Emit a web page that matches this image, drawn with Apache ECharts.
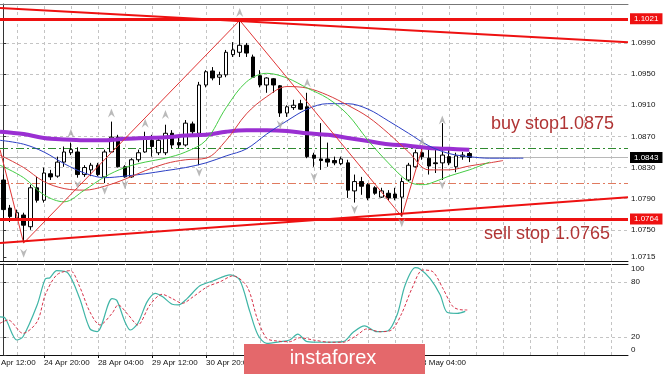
<!DOCTYPE html>
<html><head><meta charset="utf-8">
<script src="https://cdn.jsdelivr.net/npm/echarts@6/dist/echarts.min.js"></script>
<style>html,body{margin:0;padding:0;background:#fff}#c{width:665px;height:375px}</style>
</head><body><div id="c"></div>
<script>
const NSLOTS = 93;
// H4 candles (index 0 = first visible bar)
const opens = [1.0814,1.0778,1.0765,1.0769,1.0754,1.0804,1.0788,1.0822,1.0819,1.0837,
1.0849,1.0850,1.0821,1.0827,1.0833,1.0818,1.0850,1.0869,1.0831,1.0818,
1.0840,1.0850,1.0865,1.0849,1.0849,1.0874,1.0862,1.0859,1.0886,1.0874,
1.0936,1.0954,1.0946,1.0949,1.0975,1.0978,1.0987,1.0972,1.0948,1.0936,
1.0944,1.0935,1.0900,1.0907,1.0912,1.0908,1.0846,1.0841,1.0841,1.0839,
1.0835,1.0836,1.0800,1.0812,1.0808,1.0804,1.0792,1.0797,1.0796,1.0792,
1.0814,1.0831,1.0849,1.0842,1.0836,1.0836,1.0844,1.0831,1.0844,1.0848];
const closes = [1.0776,1.0767,1.0772,1.0756,1.0804,1.0788,1.0823,1.0818,1.0837,1.0850,
1.0853,1.0821,1.0830,1.0833,1.0821,1.0850,1.0869,1.0831,1.0818,1.0840,
1.0849,1.0868,1.0857,1.0865,1.0874,1.0859,1.0859,1.0887,1.0876,1.0936,
1.0953,1.0945,1.0949,1.0978,1.0981,1.0987,1.0977,1.0946,1.0936,1.0945,
1.0936,1.0900,1.0908,1.0910,1.0905,1.0844,1.0842,1.0839,1.0837,1.0836,
1.0841,1.0801,1.0812,1.0806,1.0791,1.0797,1.0800,1.0791,1.0791,1.0812,
1.0833,1.0849,1.0844,1.0832,1.0835,1.0846,1.0836,1.0845,1.0846,1.0843];
const lows = [1.0765,1.0760,1.0763,1.0733,1.0750,1.0785,1.0785,1.0814,1.0817,1.0831,
1.0846,1.0817,1.0818,1.0819,1.0819,1.0810,1.0849,1.0830,1.0817,1.0817,
1.0837,1.0849,1.0844,1.0846,1.0846,1.0855,1.0855,1.0857,1.0872,1.0833,
1.0933,1.0942,1.0936,1.0946,1.0972,1.0972,1.0972,1.0945,1.0933,1.0926,
1.0926,1.0895,1.0895,1.0904,1.0904,1.0842,1.0831,1.0827,1.0831,1.0833,
1.0833,1.0791,1.0785,1.0795,1.0788,1.0795,1.0791,1.0788,1.0788,1.0767,
1.0812,1.0830,1.0840,1.0821,1.0823,1.0814,1.0833,1.0824,1.0840,1.0837];
const highs = [1.0821,1.0782,1.0776,1.0772,1.0808,1.0818,1.0830,1.0827,1.0844,1.0857,
1.0862,1.0856,1.0833,1.0836,1.0836,1.0853,1.0889,1.0872,1.0833,1.0842,
1.0853,1.0876,1.0872,1.0869,1.0885,1.0878,1.0868,1.0891,1.0889,1.0940,
1.0955,1.0959,1.0953,1.0981,1.0991,1.1019,1.0990,1.0975,1.0955,1.0946,
1.0945,1.0936,1.0910,1.0917,1.0917,1.0926,1.0849,1.0887,1.0862,1.0844,
1.0844,1.0840,1.0821,1.0818,1.0810,1.0806,1.0804,1.0801,1.0804,1.0817,
1.0836,1.0853,1.0854,1.0853,1.0854,1.0887,1.0853,1.0849,1.0850,1.0850];

// moving averages [bar index, price]
const purpleMA = [[-0.5,1.0876],[3,1.0873],[6,1.0868],[9,1.0866],[12,1.0865],[15,1.0865],[18,1.0867],[21,1.0868],[24,1.0869],[27,1.0871],[30,1.0872],[33,1.0876],[36,1.0878],[39,1.0878],[42,1.0877],[45,1.0874],[48,1.0872],[51,1.0868],[54,1.0864],[57,1.0860],[60,1.0858],[63,1.0855],[66,1.0854],[69,1.0853]];
const blueMA = [[-0.5,1.0865],[3,1.0860],[6,1.0850],[9,1.0835],[12,1.0823],[15,1.0817],[18,1.0819],[21,1.0822],[24,1.0826],[27,1.0830],[30,1.0836],[33,1.0845],[36,1.0854],[39,1.0873],[42,1.0890],[45,1.0905],[48,1.0912],[51,1.0912],[54,1.0905],[57,1.0890],[60,1.0874],[63,1.0858],[66,1.0848],[69,1.0844],[72,1.0842],[75,1.0842],[77,1.0842]];
const greenMA = [[-0.5,1.0833],[3,1.0817],[6,1.0795],[9,1.0786],[12,1.0801],[15,1.0818],[18,1.0830],[21,1.0837],[24,1.0842],[27,1.0850],[30,1.0865],[33,1.0907],[36,1.0940],[39,1.0951],[42,1.0945],[45,1.0932],[48,1.0919],[51,1.0898],[54,1.0865],[57,1.0836],[60,1.0812],[62,1.0808],[63,1.0809],[66,1.0819],[69,1.0827],[72,1.0837]];
const redMA = [[-0.5,1.0846],[3,1.0830],[6,1.0812],[9,1.0803],[12,1.0801],[15,1.0806],[18,1.0815],[21,1.0826],[24,1.0835],[27,1.0840],[30,1.0842],[33,1.0865],[36,1.0899],[39,1.0921],[42,1.0934],[45,1.0932],[48,1.0923],[51,1.0910],[54,1.0895],[57,1.0874],[60,1.0850],[63,1.0827],[66,1.0827],[69,1.0832],[72,1.0836],[74,1.0839]];
const zigzag = [[-0.5,1.0853],[3,1.0733],[35,1.1019],[59,1.0767],[62,1.0854]];
const trendTop = [[-0.5,1.1035],[92.5,1.0991]];
const trendBottom = [[-0.5,1.0733],[92.5,1.0792]];
const redLevels = [1.1021, 1.0764];
const buyLevel = 1.0855;
const sellLevel = 1.0810;
const lastPrice = 1.0843;
const upFractals = [[10,1.0874],[16,1.0900],[21,1.0887],[24,1.0898],[35,1.1029],[45,1.0939],[62,1.0863],[65,1.0891]];
const downFractals = [[3,1.0720],[11,1.0808],[15,1.0801],[18,1.0808],[29,1.0824],[41,1.0885],[46,1.0818],[52,1.0776],[59,1.0759],[65,1.0808]];

// stochastic
const stochK = [[-0.5,42],[0.2,41],[2.0,16.5],[2.9,20],[5.0,55],[6.2,83.5],[6.9,85],[7.9,92.7],[9.6,89.8],[11.3,62],[12.8,29],[13.9,25.6],[16.1,62],[16.8,60],[18.0,36.6],[18.8,27.5],[19.9,34.8],[21.3,58.6],[22.5,67.8],[23.6,64],[25.0,55.7],[25.9,55],[27.2,62],[29.1,76],[31.0,81.3],[33.6,88],[35.0,82.4],[36.5,47.6],[37.7,22],[39.0,12.8],[41.0,14.6],[42.4,16.5],[43.6,23],[45.0,14.6],[46.9,14],[50.3,14.6],[51.8,25],[53.5,32],[55.3,25.6],[56.9,26.4],[58.3,44],[59.5,77],[61.0,96],[61.7,94.5],[63.2,84],[64.7,66],[65.7,47],[67.2,45.8],[68.4,48]];
const stochD = [[-0.5,34.8],[0.7,38.5],[2.9,23.8],[5.0,36.6],[6.2,66],[7.9,88],[9.9,92.7],[11.3,75],[12.8,47.6],[14.3,33],[16.1,45.8],[17.0,55],[18.5,44],[19.9,33],[21.7,55],[23.5,66.7],[25.0,62],[26.5,56.8],[28.1,64],[30.2,75],[32.1,80.5],[34.0,87],[36.1,75],[37.6,40],[39.0,18.3],[40.5,15.4],[42.4,14.6],[43.9,19],[45.9,16.5],[48.4,14],[50.3,14],[52.4,22],[53.8,28.6],[55.8,25.6],[57.5,27.5],[59.0,45.8],[60.5,73],[62.1,93.4],[63.6,91.5],[65.1,73],[66.6,53],[68.1,49.5],[68.7,49.5]];

// axis ticks / labels
const priceTicks = [1.0715,1.0750,1.0790,1.0830,1.0870,1.0910,1.0950,1.0990];
const priceGrid = [1.0750,1.0790,1.0830,1.0870,1.0910,1.0950,1.0990];
const stochTicks = [0,20,80,100];
const stochGrid = [20,80];
const timeGridIdx = [2,6,10,14,18,22,26,30,34,38,42,46,50,54,58,62,66,70,74,78,82,86,90];
const timeLabelIdx = [6,14,22,30,38,46,54,62];
const timeLabels = ['24 Apr 20:00','28 Apr 04:00','29 Apr 12:00','30 Apr 20:00','4 May 04:00','5 May 12:00','6 May 20:00','8 May 04:00'];
const firstLabel = {idx:-2, text:'23 Apr 12:00'};

const FONT = '"Liberation Sans Narrow","Arial Narrow","Liberation Sans",Arial,sans-serif';
const cats = Array.from({length:NSLOTS},(_,i)=>String(i));
const candleData = opens.map((o,i)=>[o, closes[i], lows[i], highs[i]]);

function line(data, color, width, z, extra){
  return Object.assign({type:'line', data, xAxisIndex:1, yAxisIndex:0, symbol:'none', smooth:0.35,
    lineStyle:{color, width}, z, silent:true}, extra||{});
}
const dashGrid = {color:'#c4c4c4', type:[3,3], width:1};

const option = {
  animation:false,
  backgroundColor:'#fff',
  grid:[
    {left:0, top:4, width:628, height:257, outerBoundsMode:'none'},
    {left:0, top:264, width:628, height:91, outerBoundsMode:'none'}
  ],
  xAxis:[
    {type:'category', gridIndex:0, data:cats, boundaryGap:true, axisLine:{show:true, lineStyle:{color:'#111'}}, axisTick:{show:false}, axisLabel:{show:false}, splitLine:{show:false}},
    {type:'value', gridIndex:0, min:-0.5, max:NSLOTS-0.5, position:'top', axisLine:{show:true, lineStyle:{color:'#777'}}, axisTick:{show:false}, axisLabel:{show:false}, splitLine:{show:false}},
    {type:'category', gridIndex:1, data:cats, boundaryGap:true, axisLine:{show:true, lineStyle:{color:'#111'}},
      axisTick:{show:true, alignWithLabel:true, length:3, interval:(i)=>timeLabelIdx.includes(i), lineStyle:{color:'#111'}},
      axisLabel:{show:true, interval:(i)=>timeLabelIdx.includes(i), align:'left', margin:4, fontSize:8, fontFamily:FONT, color:'#111',
        formatter:(v,i)=>{const k=timeLabelIdx.indexOf(+v); return k>=0?timeLabels[k]:'';}},
      splitLine:{show:false}},
    {type:'value', gridIndex:1, min:-0.5, max:NSLOTS-0.5, position:'top', axisLine:{show:true, lineStyle:{color:'#111'}}, axisTick:{show:false}, axisLabel:{show:false}, splitLine:{show:false}}
  ],
  yAxis:[
    {type:'value', gridIndex:0, min:1.0710, max:1.1040, position:'right',
      axisLine:{show:true, lineStyle:{color:'#333'}},
      axisTick:{show:true, customValues:priceTicks, length:3, lineStyle:{color:'#333'}},
      axisLabel:{customValues:priceTicks, hideOverlap:false, formatter:(v)=>v.toFixed(4), fontSize:8, fontFamily:FONT, color:'#111', margin:3},
      splitLine:{show:false}},
    {type:'value', gridIndex:1, min:0, max:100, position:'right',
      axisLine:{show:true, lineStyle:{color:'#333'}},
      axisTick:{show:true, customValues:stochTicks, length:3, lineStyle:{color:'#333'}},
      axisLabel:{customValues:stochTicks, hideOverlap:false, fontSize:8, fontFamily:FONT, color:'#111', margin:3,
        formatter:(v)=> v===100?'{t|100}':(v===0?'{b|0}':String(v)),
        rich:{t:{padding:[9,0,0,0], fontSize:8, fontFamily:FONT, color:'#111'}, b:{padding:[0,0,11,0], fontSize:8, fontFamily:FONT, color:'#111'}}},
      splitLine:{show:false}}
  ],
  series:[
    // main grid lines
    {type:'line', xAxisIndex:1, yAxisIndex:0, data:[[0,1.08]], symbol:'none', lineStyle:{width:0}, silent:true, z:1,
      markLine:{z:1, precision:6, silent:true, symbol:['none','none'], label:{show:false}, lineStyle:dashGrid,
        data:[...priceGrid.map(v=>({yAxis:v})), ...timeGridIdx.map(v=>({xAxis:v}))]}},
    // stochastic grid lines
    {type:'line', xAxisIndex:3, yAxisIndex:1, data:[[0,50]], symbol:'none', lineStyle:{width:0}, silent:true, z:1,
      markLine:{z:1, precision:6, silent:true, symbol:['none','none'], label:{show:false}, lineStyle:dashGrid,
        data:[...stochGrid.map(v=>({yAxis:v})), ...timeGridIdx.map(v=>({xAxis:v}))]}},
    // price levels
    {type:'line', xAxisIndex:1, yAxisIndex:0, data:[[0,1.08]], symbol:'none', lineStyle:{width:0}, silent:true, z:2,
      markLine:{z:2, precision:6, silent:true, symbol:['none','none'],
        data:[
          {yAxis:buyLevel, lineStyle:{color:'#2f8a2f', width:1, type:[8,3,2,3]}, label:{show:false}},
          {yAxis:sellLevel, lineStyle:{color:'#e07a5f', width:1, type:[8,3,2,3]}, label:{show:false}},
          {yAxis:lastPrice, lineStyle:{color:'#b8b8b8', width:1, type:'solid'},
            label:{show:true, position:'end', distance:2, formatter:lastPrice.toFixed(4), color:'#fff', backgroundColor:'#000', padding:[2,4,1,4], fontSize:8, fontFamily:FONT}}
        ]}},
    {type:'candlestick', xAxisIndex:0, yAxisIndex:0, data:candleData, barWidth:4, z:3, silent:true,
      itemStyle:{color:'#fff', color0:'#000', borderColor:'#000', borderColor0:'#000', borderWidth:1}},
    line(purpleMA, '#9a2fd2', 4, 4),
    line(blueMA, '#2b3fc4', 1, 5),
    line(redMA, '#d83c3c', 1, 5),
    line(greenMA, '#45cc45', 1, 5),
    line(zigzag, '#e03535', 1, 5, {smooth:false}),
    line(trendTop, '#ee1111', 2, 6, {smooth:false}),
    line(trendBottom, '#ee1111', 2, 6, {smooth:false}),
    {type:'line', xAxisIndex:1, yAxisIndex:0, data:[[0,1.08]], symbol:'none', lineStyle:{width:0}, silent:true, z:6,
      markLine:{z:6, precision:6, silent:true, symbol:['none','none'],
        data: redLevels.map(v=>({yAxis:v, lineStyle:{color:'#ee1111', width:3, type:'solid'},
          label:{show:true, position:'end', distance:2, formatter:v.toFixed(4), color:'#fff', backgroundColor:'#ee1111', padding:[2,4,1,4], fontSize:8, fontFamily:FONT}}))}},
    {type:'scatter', xAxisIndex:1, yAxisIndex:0, data:upFractals, symbol:'path://M4,0 L8,9 L4,6 L0,9 Z', symbolSize:[7,9], itemStyle:{color:'#a9a9a9'}, z:7, silent:true},
    {type:'scatter', xAxisIndex:1, yAxisIndex:0, data:downFractals, symbol:'path://M4,0 L8,9 L4,6 L0,9 Z', symbolSize:[7,9], symbolRotate:180, itemStyle:{color:'#a9a9a9'}, z:7, silent:true},
    {type:'line', xAxisIndex:3, yAxisIndex:1, data:stochK, symbol:'none', smooth:0.3, lineStyle:{color:'#3fb5a6', width:1.2}, z:5, silent:true},
    {type:'line', xAxisIndex:3, yAxisIndex:1, data:stochD, symbol:'none', smooth:0.3, lineStyle:{color:'#d6334a', width:1, type:[3,2]}, z:5, silent:true}
  ],
  graphic:[
    {id:'buy', type:'text', x:491, y:124, z:100, style:{text:'buy stop1.0875', fill:'#b03434', font:'18px "Liberation Sans", Arial, sans-serif', textAlign:'left', textVerticalAlign:'middle'}},
    {id:'sell', type:'text', x:484, y:234, z:100, style:{text:'sell stop 1.0765', fill:'#b03434', font:'18px "Liberation Sans", Arial, sans-serif', textAlign:'left', textVerticalAlign:'middle'}},
    {id:'wmbox', type:'rect', z:100, shape:{x:244, y:344, width:181, height:30}, style:{fill:'#e4686b'}},
    {id:'wmtext', type:'text', x:333, y:358, z:101, style:{text:'instaforex', fill:'#fff', font:'20px "Liberation Sans", Arial, sans-serif', textAlign:'center', textVerticalAlign:'middle'}}
  ]
};

const chart = echarts.init(document.getElementById('c'), null, {renderer:'canvas'});
chart.setOption(option);
const px = chart.convertToPixel({xAxisIndex:3}, firstLabel.idx);
chart.setOption({graphic:[
  {id:'firstlab', type:'text', x:px, y:359, z:50, style:{text:firstLabel.text, fill:'#111', font:'8px ' + FONT, textAlign:'left', textVerticalAlign:'top'}}
]});
</script>
</body></html>
